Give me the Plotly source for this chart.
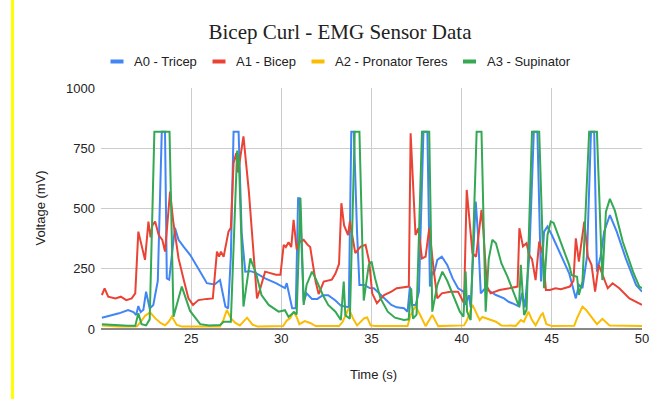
import plotly.graph_objects as go

# ---------------- data ----------------
a0_t = [20.05, 20.5, 21.0, 21.5, 21.8, 21.95, 22.07, 22.2, 22.35, 22.5, 22.7, 22.9, 23.15, 23.37, 23.55,
        23.65, 23.78, 24.1, 24.3, 24.6, 24.95, 25.5, 25.87, 26.3, 26.6, 26.9, 27.05, 27.2, 27.35, 27.63,
        27.8, 28.0, 28.3, 28.6, 29.1, 29.7, 30.2, 30.3, 30.6, 30.8, 30.93, 31.02, 31.24, 31.4, 31.7, 32.0,
        32.3, 32.6, 33.0, 33.3, 33.74, 33.88, 34.02, 34.2, 34.33, 34.6, 34.9, 35.13, 35.7, 36.1, 36.4,
        36.8, 37.0, 37.13, 37.25, 37.45, 37.63, 37.88, 38.1, 38.24, 38.35, 38.45, 38.65, 38.9, 39.2,
        39.5, 39.8, 40.1, 40.2, 40.4, 40.5, 40.78, 40.9, 41.06, 41.3, 41.6, 41.9, 42.35, 42.6, 42.8, 43.2,
        43.35, 43.5, 43.75, 44.0, 44.2, 44.4, 44.57, 44.76, 45.0, 45.4, 45.96, 46.33, 46.5, 46.7, 46.95,
        47.17, 47.35, 47.5, 47.7, 47.9, 48.22, 48.6, 49.1, 49.67, 50.0]
a0_v = [47, 55, 65, 79, 70, 58, 95, 70, 80, 155, 85, 100, 200, 818, 818,
        210, 205, 420, 370, 340, 307, 238, 190, 185, 203, 93, 85, 300, 818, 818,
        400, 238, 240, 232, 210, 190, 170, 190, 86, 86, 543, 543, 113, 148, 125, 125,
        140, 140, 118, 97, 90, 818, 818, 400, 183, 183, 170, 169, 127, 100, 90,
        86, 72, 176, 100, 100, 155, 818, 818, 176, 238, 225, 287, 300, 266,
        210, 169, 155, 100, 140, 90, 529, 400, 148, 169, 155, 141, 127, 113, 107, 93,
        150, 90, 300, 818, 818, 197, 404, 425, 390, 321, 231, 127, 183, 170, 300,
        818, 818, 238, 300, 404, 473, 404, 293, 183, 155]

a1_t = [20.05, 20.2, 20.4, 20.8, 21.1, 21.4, 21.7, 21.9, 22.07, 22.25, 22.44, 22.63, 22.75, 22.85, 23.0,
        23.2, 23.4, 23.55, 23.83, 24.0, 24.3, 24.6, 24.85, 25.1, 25.4, 25.87, 26.2, 26.43, 26.55, 26.65,
        26.8, 27.07, 27.2, 27.35, 27.5, 27.6, 27.9, 28.2, 28.46, 28.65, 28.8, 29.1, 29.7, 29.95, 30.13,
        30.25, 30.4, 30.55, 30.68, 30.85, 31.0, 31.24, 31.45, 31.6, 31.9, 32.07, 32.35, 32.8, 33.0, 33.2,
        33.33, 33.48, 33.7, 33.8, 34.1, 34.4, 34.67, 34.87, 35.04, 35.3, 35.7, 36.1, 36.4, 36.8, 37.07,
        37.17, 37.44, 37.6, 37.8, 38.0, 38.2, 38.46, 38.65, 38.9, 39.36, 39.8, 40.13, 40.28, 40.45, 40.6,
        40.8, 41.1, 41.2, 41.4, 41.6, 42.1, 42.65, 43.1, 43.2, 43.4, 43.6, 43.74, 43.9, 44.1, 44.3, 44.5,
        44.67, 44.9, 45.2, 45.5, 46.0, 46.2, 46.33, 46.5, 46.8, 47.0, 47.2, 47.4, 47.6, 47.9, 48.1, 48.37,
        48.74, 49.3, 50.0]
a1_v = [141, 169, 134, 127, 134, 120, 127, 148, 404, 349, 287, 446, 380, 430, 446,
        390, 370, 321, 570, 450, 293, 200, 127, 100, 120, 125, 127, 321, 300, 321,
        300, 404, 420, 688, 730, 650, 799, 570, 293, 127, 160, 238, 225, 225, 349,
        340, 360, 340, 453, 330, 360, 370, 350, 340, 197, 145, 197, 205, 230, 270,
        522, 430, 390, 447, 315, 342, 349, 280, 148, 107, 141, 155, 169, 172, 176,
        812, 390, 418, 293, 300, 418, 238, 127, 148, 155, 155, 107, 577, 420, 314,
        300, 494, 410, 176, 148, 162, 169, 176, 418, 343, 356, 307, 290, 203, 363, 307,
        162, 162, 169, 165, 176, 200, 376, 280, 446, 300, 266, 155, 266, 210, 169, 190,
        169, 127, 100]

a2_t = [20.05, 20.5, 21.0, 21.9, 22.0, 22.2, 22.45, 22.72, 23.0, 23.3, 23.55, 23.75, 23.93, 24.2, 24.5,
        26.6, 26.8, 26.98, 27.2, 27.45, 27.7, 28.1, 28.4, 28.7, 30.1, 30.3, 30.5, 30.68, 30.85, 31.0,
        31.3, 31.6, 31.9, 33.2, 33.4, 33.74, 34.0, 34.2, 34.4, 34.6, 34.76, 34.95, 35.2, 37.0, 37.17,
        37.44, 37.7, 38.0, 38.37, 38.7, 40.13, 40.3, 40.6, 40.8, 41.0, 41.15, 41.5, 41.9, 42.2, 43.0,
        43.28, 43.45, 43.7, 43.9, 44.1, 44.4, 44.5, 44.7, 45.0, 46.24, 46.4, 46.7, 46.9, 47.3, 47.5,
        47.8, 48.2, 50.0]
a2_v = [15, 12, 10, 10, 12, 30, 55, 69, 45, 25, 15, 30, 51, 17, 10,
        10, 40, 79, 45, 25, 15, 47, 18, 10, 12, 35, 45, 72, 50, 20,
        33, 25, 12, 12, 30, 86, 40, 15, 30, 45, 48, 15, 12, 12, 58,
        95, 58, 12, 58, 12, 15, 37, 100, 65, 37, 50, 40, 30, 15, 13,
        37, 30, 72, 37, 15, 58, 65, 20, 12, 13, 45, 93, 79, 37, 20,
        42, 15, 12]

a3_t = [20.05, 20.5, 21.0, 21.5, 21.9, 22.07, 22.25, 22.5, 22.7, 22.96, 23.8, 24.02, 24.48, 24.94, 25.5,
        26.0, 26.6, 26.8, 27.2, 27.55, 27.65, 27.9, 28.28, 28.6, 28.9, 29.3, 29.85, 30.2, 30.4, 30.7,
        30.85, 31.06, 31.24, 31.4, 31.7, 31.9, 32.3, 32.6, 33.0, 33.3, 33.46, 33.55, 33.8, 34.07, 34.33,
        34.57, 34.85, 35.0, 35.2, 35.5, 35.9, 36.3, 36.8, 37.06, 37.2, 37.3, 37.5, 37.8, 38.2, 38.37,
        38.65, 38.93, 39.2, 39.67, 39.9, 40.1, 40.22, 40.3, 40.5, 40.83, 41.1, 41.33, 41.5, 41.7, 41.9,
        42.2, 42.54, 42.9, 43.18, 43.28, 43.46, 43.6, 43.9, 44.3, 44.57, 44.76, 44.94, 45.1, 45.5, 45.96,
        46.1, 46.4, 46.5, 46.7, 47.07, 47.5, 47.8, 48.0, 48.22, 48.5, 48.93, 49.5, 49.85, 50.0]
a3_v = [20, 17, 14, 13, 13, 65, 20, 15, 40, 818, 818, 51, 176, 75, 20,
        15, 17, 30, 30, 740, 700, 93, 293, 230, 141, 100, 72, 78, 50, 70,
        60, 543, 100, 183, 238, 210, 141, 100, 72, 37, 197, 57, 43, 818, 818,
        118, 266, 280, 210, 127, 72, 47, 37, 40, 169, 43, 60, 818, 818, 72,
        183, 238, 200, 113, 72, 51, 238, 72, 37, 818, 818, 72, 290, 370, 356,
        273, 217, 148, 93, 266, 58, 80, 818, 818, 169, 390, 446, 440, 363, 266,
        223, 217, 141, 197, 818, 818, 203, 487, 540, 490, 363, 238, 176, 169]

series_names = ["A0 - Tricep", "A1 - Bicep", "A2 - Pronator Teres", "A3 - Supinator"]
series_colors = ["#4285F4", "#EA4335", "#FBBC04", "#34A853"]
x_ticks = [25, 30, 35, 40, 45, 50]
y_ticks = [0, 250, 500, 750, 1000]

# ---------------- figure ----------------
W, H = 661, 406
L, R, T, B = 101, 19, 88, 77
PW, PH = W - L - R, H - T - B


def px(x):
    return (x - L) / PW


def py(y):
    return (H - B - y) / PH


SANS = "Liberation Sans, Arial, sans-serif"

fig = go.Figure()
for (t, v), name, col in zip([(a0_t, a0_v), (a1_t, a1_v), (a2_t, a2_v), (a3_t, a3_v)],
                             series_names, series_colors):
    fig.add_trace(go.Scatter(x=t, y=v, mode="lines", name=name,
                             line=dict(color=col, width=2), showlegend=False))

shapes = []
annotations = []
# custom legend
legend_pos = [(110.5, 131.5), (212.5, 233.5), (311.5, 332.5), (463, 484.5)]
for (mx, tx), name, col in zip(legend_pos, series_names, series_colors):
    shapes.append(dict(type="line", xref="paper", yref="paper",
                       x0=px(mx), x1=px(mx + 13), y0=py(61.5), y1=py(61.5),
                       line=dict(color=col, width=4)))
    annotations.append(dict(text=name, xref="paper", yref="paper", x=px(tx), y=py(61.5),
                            xanchor="left", yanchor="middle", showarrow=False,
                            font=dict(family=SANS, size=13, color="#222222")))

# axis titles
annotations.append(dict(text="Voltage (mV)", xref="paper", yref="paper", x=px(40), y=py(208.5),
                        textangle=-90, xanchor="center", yanchor="middle", showarrow=False,
                        font=dict(family=SANS, size=13, color="#222222")))
annotations.append(dict(text="Time (s)", xref="paper", yref="paper", x=px(373), y=py(374),
                        xanchor="center", yanchor="middle", showarrow=False,
                        font=dict(family=SANS, size=13, color="#222222")))

# yellow vertical bar at left edge of the image
shapes.append(dict(type="line", xref="paper", yref="paper", x0=px(12.5), x1=px(12.5),
                   y0=py(0), y1=py(399), line=dict(color="#FFFF00", width=3)))

fig.update_layout(
    width=W, height=H, autosize=False,
    margin=dict(l=L, r=R, t=T, b=B, pad=0),
    paper_bgcolor="white", plot_bgcolor="white",
    title=dict(text="Bicep Curl - EMG Sensor Data", x=340 / W, xref="container", xanchor="center",
               y=1 - 32 / H, yref="container", yanchor="middle",
               font=dict(family="Liberation Serif, Times New Roman, serif", size=21, color="#222222")),
    xaxis=dict(range=[20, 50], tickvals=x_ticks, ticktext=[str(v) for v in x_ticks],
               showgrid=True, gridcolor="#CCCCCC", gridwidth=1, zeroline=False,
               showline=False, ticks="", tickfont=dict(family=SANS, size=13, color="#222222")),
    yaxis=dict(range=[0, 1000], tickvals=y_ticks, ticktext=[str(v) for v in y_ticks],
               showgrid=True, gridcolor="#CCCCCC", gridwidth=1, zeroline=True,
               zerolinecolor="#888888", zerolinewidth=1.5,
               showline=False, ticks="", ticklabelstandoff=5,
               tickfont=dict(family=SANS, size=13, color="#222222")),
    shapes=shapes, annotations=annotations,
)

fig.write_html("out.html")
